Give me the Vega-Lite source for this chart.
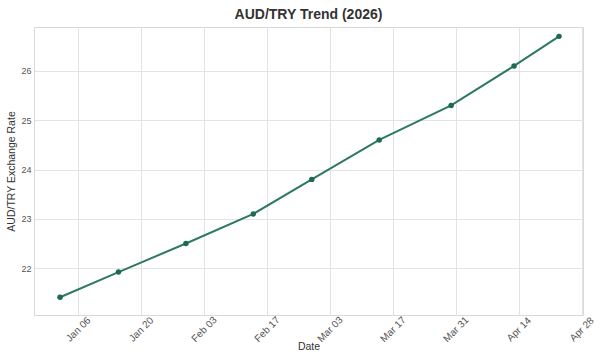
{
  "$schema": "https://vega.github.io/schema/vega-lite/v6.json",
  "autosize": {"type": "none"},
  "padding": {"left": 34, "top": 27, "right": 17, "bottom": 44},
  "width": 549,
  "height": 288,
  "background": "white",
  "title": {"text": "AUD/TRY Trend (2026)", "font": "Liberation Sans", "fontSize": 14, "fontWeight": "bold", "color": "#333333", "offset": 5, "anchor": "middle"},
  "config": {
    "view": {"stroke": "#d9d9d9", "strokeWidth": 1},
    "axis": {"labelFont": "Liberation Sans", "titleFont": "Liberation Sans", "labelColor": "#555555", "titleColor": "#333333", "labelFontSize": 9, "titleFontSize": 10.5, "titleFontWeight": "normal", "gridColor": "#e3e3e3", "gridWidth": 1, "domain": false, "ticks": false}
  },
  "data": {"values": [
    {"date": "2026-01-02T00:00:00", "rate": 21.41},
    {"date": "2026-01-15T00:00:00", "rate": 21.92},
    {"date": "2026-01-30T00:00:00", "rate": 22.5},
    {"date": "2026-02-14T00:00:00", "rate": 23.1},
    {"date": "2026-02-27T00:00:00", "rate": 23.8},
    {"date": "2026-03-14T00:00:00", "rate": 24.6},
    {"date": "2026-03-30T00:00:00", "rate": 25.3},
    {"date": "2026-04-13T00:00:00", "rate": 26.1},
    {"date": "2026-04-23T00:00:00", "rate": 26.7}
  ]},
  "encoding": {
    "x": {"field": "date", "type": "temporal", "title": "Date",
      "scale": {"domain": [{"year": 2025, "month": 12, "date": 27, "hours": 5}, {"year": 2026, "month": 4, "date": 28, "hours": 8}], "nice": false},
      "axis": {"values": [
        {"year": 2026, "month": 1, "date": 6},
        {"year": 2026, "month": 1, "date": 20},
        {"year": 2026, "month": 2, "date": 3},
        {"year": 2026, "month": 2, "date": 17},
        {"year": 2026, "month": 3, "date": 3},
        {"year": 2026, "month": 3, "date": 17},
        {"year": 2026, "month": 3, "date": 31},
        {"year": 2026, "month": 4, "date": 14},
        {"year": 2026, "month": 4, "date": 28}
      ], "format": "%b %d", "labelFontSize": 10, "labelAngle": -45, "labelAlign": "center", "labelBaseline": "middle", "labelPadding": 14, "titlePadding": -2, "labelFlush": false, "labelOverlap": false}},
    "y": {"field": "rate", "type": "quantitative", "title": "AUD/TRY Exchange Rate",
      "scale": {"domain": [21.05, 26.89], "nice": false, "zero": false},
      "axis": {"values": [22, 23, 24, 25, 26], "format": "d", "labelPadding": 3, "titlePadding": 4}}
  },
  "layer": [
    {"mark": {"type": "line", "color": "#2e7a5c", "strokeWidth": 2}},
    {"mark": {"type": "point", "filled": true, "color": "#1b6b4f", "opacity": 1, "size": 30}}
  ]
}
